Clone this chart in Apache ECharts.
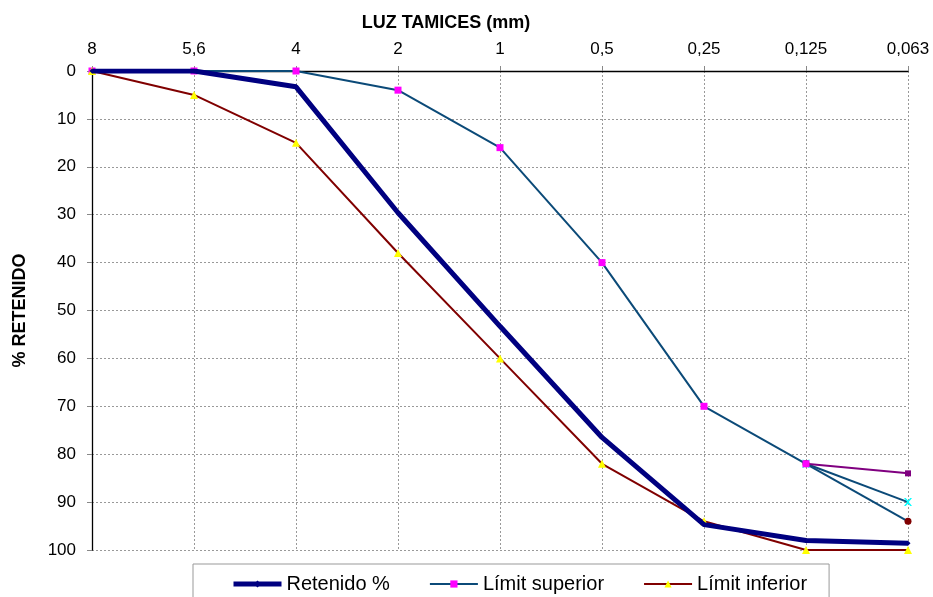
<!DOCTYPE html>
<html><head><meta charset="utf-8">
<script src="https://cdn.jsdelivr.net/npm/echarts@6/dist/echarts.min.js"></script>
<style>html,body{margin:0;padding:0;background:#fff}#c{width:933px;height:597px}</style>
</head><body><div id="c"></div>
<script>
const categories = ['8','5,6','4','2','1','0,5','0,25','0,125','0,063'];
const retenido = [0, 0, 3.3, 29.6, 53.3, 76.5, 94.7, 98.0, 98.6];
const limitSuperior = [0, 0, 0, 4, 16, 40, 70, 82, null];
const limitInferior = [0, 5, 15, 38, 60, 82, 94, 100, 100];
const extraA = [null, null, null, null, null, null, null, 82, 90];
const extraB = [null, null, null, null, null, null, null, 82, 84];
const extraC = [null, null, null, null, null, null, null, 82, 94];
const yTicks = [0, 100, 10];

const F = 'Liberation Sans, Arial, sans-serif';
const cross = 'path://M0,0 L2,0 L5,3 L8,0 L10,0 L6,5 L10,10 L8,10 L5,7 L2,10 L0,10 L4,5 Z';
const chart = echarts.init(document.getElementById('c'));
chart.setOption({
  animation: false,
  backgroundColor: '#fff',
  grid: { left: 92, right: 25, top: 71, bottom: 47 },
  title: { text: 'LUZ TAMICES (mm)', left: 441, top: 9, textAlign: 'center',
    textStyle: { fontFamily: F, fontSize: 18, fontWeight: 'bold', color: '#000' } },
  legend: {
    left: 193, top: 564,
    padding: [10, 22, 20, 38], itemGap: 39, itemWidth: 48, itemHeight: 9,
    borderColor: '#999', borderWidth: 1, backgroundColor: '#fff',
    textStyle: { fontFamily: F, fontSize: 20, color: '#000' },
    data: [
      { name: 'Retenido %', lineStyle: { width: 5 } },
      { name: 'Límit superior', lineStyle: { width: 2 } },
      { name: 'Límit inferior', lineStyle: { width: 2 } }
    ]
  },
  xAxis: {
    type: 'category', position: 'top', data: categories, boundaryGap: false,
    axisLine: { onZero: false, lineStyle: { color: '#000', width: 1.3 } },
    axisTick: { show: true, length: 5, lineStyle: { color: '#888' } },
    axisLabel: { fontFamily: F, fontSize: 17, color: '#000', margin: 13 },
    splitLine: { show: true, lineStyle: { color: '#999', type: [2, 2], width: 1 } }
  },
  yAxis: {
    type: 'value', inverse: true, min: yTicks[0], max: yTicks[1], interval: yTicks[2],
    name: '% RETENIDO', nameLocation: 'middle', nameGap: 63, nameRotate: 90,
    nameTextStyle: { fontFamily: F, fontSize: 18, fontWeight: 'bold', color: '#000' },
    axisLine: { show: true, lineStyle: { color: '#000', width: 1.3 } },
    axisTick: { show: true, length: 5, lineStyle: { color: '#888' } },
    axisLabel: { fontFamily: F, fontSize: 17, color: '#000', margin: 16 },
    splitLine: { show: true, lineStyle: { color: '#999', type: [2, 2], width: 1 } }
  },
  series: [
    { name: 'Límit superior', type: 'line', data: limitSuperior, z: 3,
      lineStyle: { color: '#0B4A78', width: 2 }, itemStyle: { color: '#FF00FF' },
      symbol: 'rect', symbolSize: 7 },
    { name: 'extraA', type: 'line', data: extraA, z: 2,
      lineStyle: { color: '#0B4A78', width: 2 }, itemStyle: { color: '#00FFFF' },
      symbol: cross, symbolSize: 8 },
    { name: 'extraB', type: 'line', data: extraB, z: 2,
      lineStyle: { color: '#800080', width: 2 }, itemStyle: { color: '#800080' },
      symbol: 'rect', symbolSize: 6 },
    { name: 'extraC', type: 'line', data: extraC, z: 2,
      lineStyle: { color: '#0B4A78', width: 2 }, itemStyle: { color: '#800000' },
      symbol: 'circle', symbolSize: 7 },
    { name: 'Límit inferior', type: 'line', data: limitInferior, z: 4,
      lineStyle: { color: '#800000', width: 2 }, itemStyle: { color: '#FFFF00' },
      symbol: 'triangle', symbolSize: 8 },
    { name: 'Retenido %', type: 'line', data: retenido, z: 5,
      lineStyle: { color: '#000080', width: 5 }, itemStyle: { color: '#000080' },
      symbol: 'diamond', symbolSize: 5 }
  ]
});
</script></body></html>
